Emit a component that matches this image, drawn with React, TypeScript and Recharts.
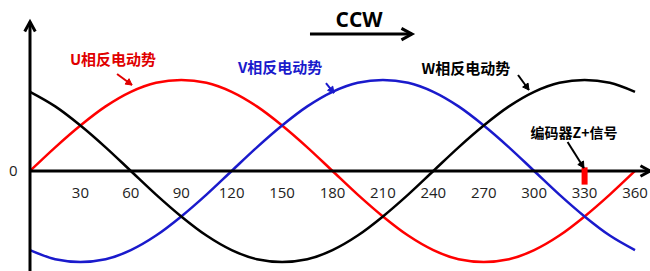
import React from "react";
import { LineChart, Line, XAxis, YAxis, ReferenceLine, ReferenceDot } from "recharts";

// electrical angle in degrees
const angles = [0, 15, 30, 45, 60, 75, 90, 105, 120, 135, 150, 165, 180, 195, 210, 225, 240, 255, 270, 285, 300, 315, 330, 345, 360];
// back-EMF per phase (normalised to peak = 1)
const uPhase = [0, 0.26, 0.5, 0.71, 0.87, 0.97, 1, 0.97, 0.87, 0.71, 0.5, 0.26, 0, -0.26, -0.5, -0.71, -0.87, -0.97, -1, -0.97, -0.87, -0.71, -0.5, -0.26, 0];
const vPhase = [-0.87, -0.97, -1, -0.97, -0.87, -0.71, -0.5, -0.26, 0, 0.26, 0.5, 0.71, 0.87, 0.97, 1, 0.97, 0.87, 0.71, 0.5, 0.26, 0, -0.26, -0.5, -0.71, -0.87];
const wPhase = [0.87, 0.71, 0.5, 0.26, 0, -0.26, -0.5, -0.71, -0.87, -0.97, -1, -0.97, -0.87, -0.71, -0.5, -0.26, 0, 0.26, 0.5, 0.71, 0.87, 0.97, 1, 0.97, 0.87];
const tickLabels = [30, 60, 90, 120, 150, 180, 210, 240, 270, 300, 330, 360];
const encoderAngle = 330;

const data = angles.map((a, i) => ({ deg: a, u: uPhase[i], v: vPhase[i], w: wPhase[i] }));

const cjk = "'Noto Sans CJK SC', 'Noto Sans', sans-serif";
const latin = "'Open Sans', sans-serif";

function makeArrow(color: string, width: number, head: number, filled: boolean) {
  return (props: any) => {
    const { x1, y1, x2, y2 } = props;
    if ([x1, y1, x2, y2].some((n) => typeof n !== "number" || isNaN(n))) return null;
    const ang = Math.atan2(y2 - y1, x2 - x1);
    const spread = 0.5;
    const ax = x2 - head * Math.cos(ang - spread);
    const ay = y2 - head * Math.sin(ang - spread);
    const bx = x2 - head * Math.cos(ang + spread);
    const by = y2 - head * Math.sin(ang + spread);
    return (
      <g>
        <line x1={x1} y1={y1} x2={x2} y2={y2} stroke={color} strokeWidth={width} />
        {filled ? (
          <polygon points={`${x2},${y2} ${ax},${ay} ${bx},${by}`} fill={color} stroke={color} strokeWidth={1} />
        ) : (
          <polyline points={`${ax},${ay} ${x2},${y2} ${bx},${by}`} fill="none" stroke={color} strokeWidth={width} />
        )}
      </g>
    );
  };
}

const axisArrow = makeArrow("#000", 3, 11, false);
const ccwArrow = makeArrow("#000", 3, 12, false);
const redPointer = makeArrow("#e00000", 2, 7, true);
const bluePointer = makeArrow("#1a1acc", 2, 7, true);
const blackPointer = makeArrow("#000", 2, 7, true);

function txt(value: string, fill: string, size: number, family: string, bold = true) {
  return { value, position: "center" as const, fill, fontSize: size, fontWeight: bold ? 700 : 400, fontFamily: family };
}

export default function App() {
  return (
    <div style={{ position: "absolute", left: 0, top: 0, width: 650, height: 271, background: "#fff" }}>
      <LineChart width={650} height={271} data={data} margin={{ top: 0, right: 15, bottom: 0, left: 30 }}>
        <XAxis type="number" dataKey="deg" domain={[0, 360]} hide />
        <YAxis type="number" domain={[-1.1, 1.88]} allowDataOverflow hide />

        <Line type="monotone" dataKey="u" stroke="#ff0000" strokeWidth={2.5} dot={false} isAnimationActive={false} />
        <Line type="monotone" dataKey="v" stroke="#1a1acc" strokeWidth={2.5} dot={false} isAnimationActive={false} />
        <Line type="monotone" dataKey="w" stroke="#000000" strokeWidth={2.5} dot={false} isAnimationActive={false} />

        {/* axes with arrow heads */}
        <ReferenceLine segment={[{ x: 0, y: 0 }, { x: 369, y: 0 }]} ifOverflow="visible" shape={axisArrow} />
        <ReferenceLine segment={[{ x: 0, y: -1.1 }, { x: 0, y: 1.64 }]} ifOverflow="visible" shape={axisArrow} />

        {/* encoder Z+ mark */}
        <ReferenceLine
          segment={[{ x: encoderAngle, y: 0.04 }, { x: encoderAngle, y: -0.15 }]}
          ifOverflow="visible"
          stroke="#ff0000"
          strokeWidth={6}
        />

        {tickLabels.map((t) => (
          <ReferenceDot key={t} x={t} y={-0.24} r={0} stroke="none" ifOverflow="visible" label={txt(String(t), "#222", 15, latin, false)} />
        ))}
        <ReferenceDot x={-10} y={0} r={0} stroke="none" ifOverflow="visible" label={txt("0", "#222", 15, latin, false)} />

        {/* direction */}
        <ReferenceDot x={195.8} y={1.66} r={0} stroke="none" ifOverflow="visible" label={txt("CCW", "#000", 21, latin)} />
        <ReferenceLine segment={[{ x: 166.6, y: 1.505 }, { x: 227.3, y: 1.505 }]} ifOverflow="visible" shape={ccwArrow} />

        {/* phase labels */}
        <ReferenceDot x={49.4} y={1.22} r={0} stroke="none" ifOverflow="visible" label={txt("U相反电动势", "#e00000", 15, cjk)} />
        <ReferenceLine segment={[{ x: 51.8, y: 1.066 }, { x: 60.7, y: 0.945 }]} ifOverflow="visible" shape={redPointer} />

        <ReferenceDot x={148.8} y={1.14} r={0} stroke="none" ifOverflow="visible" label={txt("V相反电动势", "#1a1acc", 15, cjk)} />
        <ReferenceLine segment={[{ x: 176.1, y: 0.967 }, { x: 180.9, y: 0.857 }]} ifOverflow="visible" shape={bluePointer} />

        <ReferenceDot x={259.4} y={1.13} r={0} stroke="none" ifOverflow="visible" label={txt("W相反电动势", "#000", 15, cjk)} />
        <ReferenceLine segment={[{ x: 290.4, y: 1.055 }, { x: 296.9, y: 0.89 }]} ifOverflow="visible" shape={blackPointer} />

        <ReferenceDot x={323.7} y={0.42} r={0} stroke="none" ifOverflow="visible" label={txt("编码器Z+信号", "#000", 14, cjk)} />
        <ReferenceLine segment={[{ x: 319.9, y: 0.319 }, { x: 329.6, y: 0.033 }]} ifOverflow="visible" shape={blackPointer} />
      </LineChart>
    </div>
  );
}
